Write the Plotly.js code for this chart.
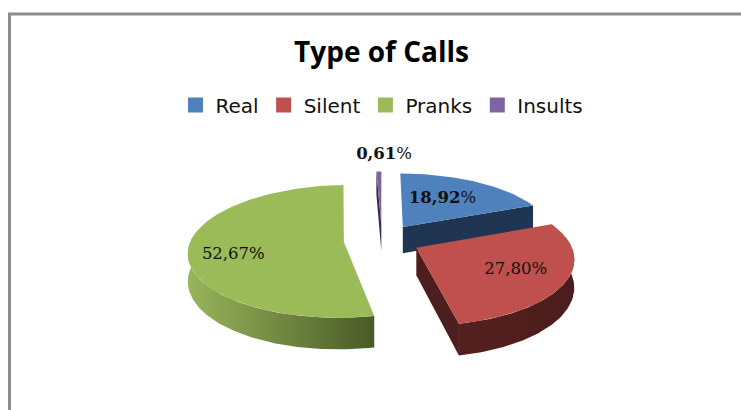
<!DOCTYPE html>
<html><head><meta charset="utf-8">
<script src="https://cdn.plot.ly/plotly-3.0.0.min.js"></script>
<style>html,body{margin:0;padding:0;background:#fff}#c{width:741px;height:410px}</style>
</head><body><div id="c"></div>
<script>
const categories = ["Real","Silent","Pranks","Insults"];
const values = [18.92,27.80,52.67,0.61];
const topColors = ["#4f81bd","#c0504d","#9bbb59","#8064a2"];
const cutColors = ["#1f3552","#4c1e1d","#4b5a28","#3a2c4c"];
const wallLeft = ["#1f3552","#54201f","#98b55b","#3a2c4c"];
const wallRight = ["#1f3552","#4a1c1b","#4a5a27","#3a2c4c"];

// projection of the tilted, exploded pie onto the pixel-ranged axes
const cx=382, cy=240, Rx=153, Ry=64.5, persp=0.141, depth=27, explode=0.25;
const labelRadius=[0.57,0.68,0.72,1.37], labelTurn=[-3,0,-9,2];

const rad=d=>d*Math.PI/180;
function proj(u,v,h){const k=1/(1+persp*v);return [cx+Rx*u*k, cy-Ry*v*k+(h||0)*k];}
const total=values.reduce((a,b)=>a+b,0);
let acc=0;
const slices=values.map((val,i)=>{const a=acc/total*360;acc+=val;const b=acc/total*360;
  const m=(a+b)/2;return {i,a,b,m,ox:explode*Math.sin(rad(m)),oy:explode*Math.cos(rad(m))};});
function pt(s,r,t,h){return proj(s.ox+r*Math.sin(rad(t)),s.oy+r*Math.cos(rad(t)),h);}
function arc(s,h,from,to){const a=from===undefined?s.a:from,b=to===undefined?s.b:to;
  const n=Math.max(4,Math.ceil(b-a));const o=[];
  for(let j=0;j<=n;j++)o.push(pt(s,1,a+(b-a)*j/n,h));return o;}
function poly(points,color,extra){return Object.assign({type:"scatter",mode:"lines",
  x:points.map(p=>p[0]),y:points.map(p=>p[1]),fill:"toself",fillcolor:color,
  line:{width:0,color:color},hoverinfo:"skip",showlegend:false},extra||{});}

const traces=[];
for(const idx of [3,0,2,1]){
  const s=slices[idx];
  const from=Math.max(s.a,80), to=Math.min(s.b,280);
  if(to>from){
    const wall=arc(s,0,from,to).concat(arc(s,depth,from,to).reverse());
    traces.push(poly(wall,cutColors[idx],{fillgradient:{type:"horizontal",
      colorscale:[[0,wallLeft[idx]],[1,wallRight[idx]]]}}));
  }
  const apex=pt(s,0,0,0), apexB=pt(s,0,0,depth);
  if(Math.sin(rad(s.b))>0.001){
    traces.push(poly([apex,pt(s,1,s.b,0),pt(s,1,s.b,depth),apexB],cutColors[idx]));
  }
  if(Math.sin(rad(s.a))<-0.001){
    traces.push(poly([apex,pt(s,1,s.a,0),pt(s,1,s.a,depth),apexB],cutColors[idx]));
  }
  traces.push(poly([apex].concat(arc(s,0)),topColors[idx]));
}
// data labels
const labelPts=slices.map(s=>pt(s,labelRadius[s.i],s.m+labelTurn[s.i],0));
const fmt=v=>v.toFixed(2).replace(".",",");
const labelText=values.map((v,i)=>(i===0||i===3)?"<b>"+fmt(v)+"</b>%":fmt(v)+"%");
traces.push({type:"scatter",mode:"text",x:labelPts.map(p=>p[0]),y:labelPts.map(p=>p[1]),
  text:labelText,textposition:"middle center",
  textfont:{family:"DejaVu Serif, serif",size:16.5,color:"#111"},hoverinfo:"skip",showlegend:false});
// legend entries
categories.forEach((c,i)=>traces.push({type:"scatter",mode:"markers",x:[null],y:[null],name:c,
  marker:{symbol:"square",size:15,color:topColors[i]},hoverinfo:"skip"}));

const layout={width:741,height:410,margin:{l:0,r:0,t:0,b:0},paper_bgcolor:"#fff",plot_bgcolor:"#fff",
  title:{text:"<b>Type of Calls</b>",font:{family:"Open Sans, sans-serif",size:28,color:"#000"},
    x:381.5/741,xanchor:"center",y:1-52/410,yanchor:"middle"},
  xaxis:{range:[0,741],visible:false,fixedrange:true},
  yaxis:{range:[410,0],visible:false,fixedrange:true},
  showlegend:true,
  legend:{orientation:"h",x:382/741,xanchor:"center",y:1-105/410,yanchor:"middle",
    font:{family:"DejaVu Sans, sans-serif",size:20,color:"#111"},traceorder:"normal",
    bgcolor:"rgba(0,0,0,0)",itemclick:false,itemdoubleclick:false},
  shapes:[
    {type:"line",xref:"x",yref:"y",x0:8,x1:741,y0:14,y1:14,line:{color:"#8c8c8c",width:3}},
    {type:"line",xref:"x",yref:"y",x0:9.5,x1:9.5,y0:13,y1:410,line:{color:"#8c8c8c",width:3}}
  ]};
Plotly.newPlot("c",traces,layout,{displayModeBar:false,staticPlot:true});
</script></body></html>
